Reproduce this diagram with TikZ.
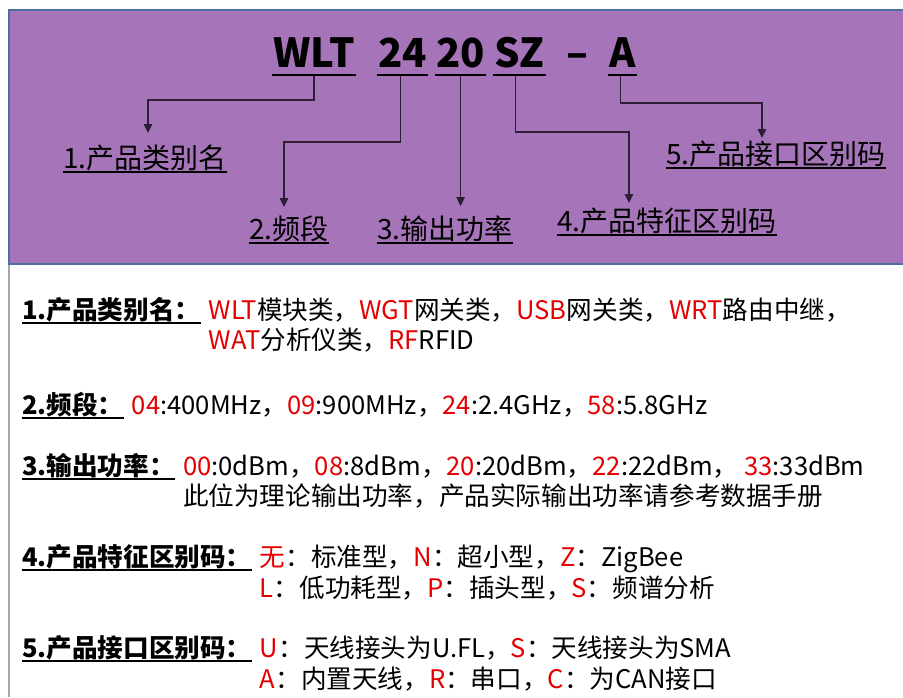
\documentclass[tikz,border=0pt]{standalone}
\usepackage{fontspec}
\setmainfont{Noto Sans CJK SC}
\usetikzlibrary{arrows.meta}
\definecolor{purp}{RGB}{166,116,184}
\definecolor{edge}{RGB}{79,110,160}
\definecolor{wire}{RGB}{45,30,55}
\definecolor{code}{RGB}{228,0,0}
\newcommand{\cd}[1]{\textcolor{code}{#1}}
\begin{document}
\begin{tikzpicture}[x=1pt,y=-1pt,
    hd/.style={font=\fontsize{40}{40}\selectfont\bfseries,inner sep=0pt,anchor=base west},
    lab/.style={font=\fontsize{28}{28}\selectfont,inner sep=0pt,anchor=base west},
    key/.style={font=\fontsize{25.6}{25.6}\selectfont\bfseries,inner sep=0pt,anchor=base west},
    txt/.style={font=\fontsize{25.6}{25.6}\selectfont,inner sep=0pt,anchor=base west},
    conn/.style={wire,line width=1.2pt,-{Triangle[width=8.5pt,length=9pt]}},
    ul/.style={line width=1.5pt}]
\useasboundingbox (0,0) rectangle (903,697);
\fill[purp] (9,10) rectangle (903,264);
\draw[edge,line width=2pt] (903,10) -- (9,10) -- (9,264) -- (903,264);
\draw[gray!70,line width=1.5pt] (9,265) -- (9,697);

\node[hd] (wlt) at (273,67) {WLT};
\node[hd] (band) at (378,67) {24};
\node[hd] (pwr) at (436,67) {20};
\node[hd] (feat) at (494,67) {SZ};
\node[hd] (dash) at (566,67) {–};
\node[hd] (intf) at (609,67) {A};
\foreach \n in {wlt,band,pwr,feat,intf}
  \draw[line width=2.5pt] ([xshift=-1pt,yshift=-8pt]\n.base west) -- ([xshift=1pt,yshift=-8pt]\n.base east);

\node[lab] (l1) at (63,168) {1.产品类别名};
\node[lab] (l2) at (249,239) {2.频段};
\node[lab] (l3) at (377,239) {3.输出功率};
\node[lab] (l4) at (557,231) {4.产品特征区别码};
\node[lab] (l5) at (666,164) {5.产品接口区别码};
\foreach \i in {1,...,5}
  \draw[ul] ([yshift=-4pt]l\i.base west) -- ([yshift=-4pt]l\i.base east);

\coordinate (t1) at (148,133);
\coordinate (t2) at (284,207);
\coordinate (t3) at (460,206);
\coordinate (t4) at (629,203);
\coordinate (t5) at (762,138);
\draw[conn] ([yshift=-9pt]wlt.base) -- ++(0,24) -| (t1);
\draw[conn] ([xshift=-2pt,yshift=-9pt]band.base) -- ++(0,66) -| (t2);
\draw[conn] ([yshift=-9pt]pwr.base) -- (pwr.base |- t3);
\draw[conn] ([xshift=-4pt,yshift=-9pt]feat.base) -- ++(0,56) -| (t4);
\draw[conn] ([xshift=-2pt,yshift=-9pt]intf.base) -- ++(0,27) -| (t5);

\node[key] (k1) at (22,319) {1.产品类别名：};
\node[txt] (c1) at ([xshift=8pt]k1.base east) {\cd{WLT}模块类，\cd{WGT}网关类，\cd{USB}网关类，\cd{WRT}路由中继，};
\node[txt] (c1b) at ([yshift=-30pt]c1.base west) {\cd{WAT}分析仪类，\cd{RF}RFID};
\node[key] (k2) at (22,414) {2.频段：};
\node[txt] (c2) at ([xshift=8pt]k2.base east) {\cd{04}:400MHz，\cd{09}:900MHz，\cd{24}:2.4GHz，\cd{58}:5.8GHz};
\node[key] (k3) at (22,475) {3.输出功率：};
\node[txt] (c3) at ([xshift=8pt]k3.base east) {\cd{00}:0dBm，\cd{08}:8dBm，\cd{20}:20dBm，\cd{22}:22dBm， \cd{33}:33dBm};
\node[txt] (c3b) at ([yshift=-30pt]c3.base west) {此位为理论输出功率，产品实际输出功率请参考数据手册};
\node[key] (k4) at (22,566) {4.产品特征区别码：};
\node[txt] (c4) at ([xshift=8pt]k4.base east) {\cd{无}：标准型，\cd{N}：超小型，\cd{Z}：ZigBee};
\node[txt] (c4b) at ([yshift=-31pt]c4.base west) {\cd{L}：低功耗型，\cd{P}：插头型，\cd{S}：频谱分析};
\node[key] (k5) at (22,657) {5.产品接口区别码：};
\node[txt] (c5) at ([xshift=8pt]k5.base east) {\cd{U}：天线接头为U.FL，\cd{S}：天线接头为SMA};
\node[txt] (c5b) at ([yshift=-31pt]c5.base west) {\cd{A}：内置天线，\cd{R}：串口，\cd{C}：为CAN接口};
\foreach \i in {1,...,5}
  \draw[line width=2pt] ([yshift=-4pt]k\i.base west) -- ([yshift=-4pt]k\i.base east);
\end{tikzpicture}
\end{document}
